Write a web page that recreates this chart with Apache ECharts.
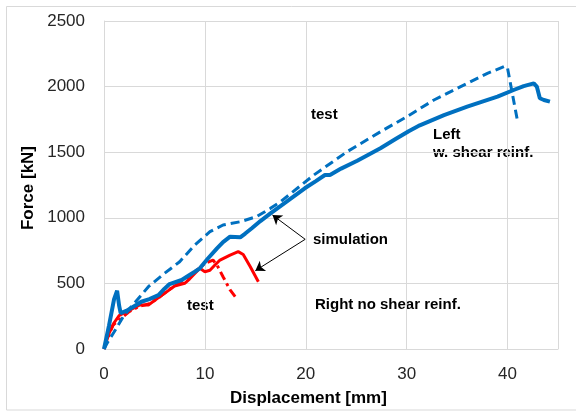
<!DOCTYPE html>
<html>
<head>
<meta charset="utf-8">
<script src="https://cdn.jsdelivr.net/npm/echarts@6/dist/echarts.min.js"></script>
<style>
  html, body { margin: 0; padding: 0; background: #fff; }
  #chart { width: 576px; height: 412px; }
</style>
</head>
<body>
<div id="chart"></div>
<script>
// displacement [mm], force [kN]
var leftSim = [
  [0, 0], [0.5, 180], [1.0, 380], [1.3, 444], [1.5, 330], [1.65, 274], [2.2, 290], [2.7, 312],
  [3.2, 335], [3.7, 360], [4.5, 380], [5.4, 411], [6.0, 460], [6.5, 495], [7.7, 526],
  [8.4, 560], [9.0, 589], [9.5, 615], [10.3, 690], [11.2, 767], [11.8, 815], [12.5, 856],
  [13.5, 851], [14.0, 880], [14.65, 920], [15.5, 975], [16.5, 1034], [18.1, 1123],
  [19.9, 1225], [21.0, 1280], [21.9, 1326], [22.4, 1326], [23.5, 1375], [25.1, 1435],
  [26.3, 1485], [27.4, 1530], [28.9, 1600], [30.2, 1660], [31.3, 1705], [33.7, 1783],
  [36.0, 1847], [37.5, 1885], [39.0, 1923], [40.6, 1974], [41.6, 2004], [42.6, 2025],
  [42.9, 2000], [43.2, 1911], [43.6, 1898], [44.2, 1885]
];
var leftTest = [
  [0, 0], [0.4, 56], [1.0, 130], [1.9, 246], [2.7, 322], [3.0, 348], [4.4, 475], [6.0, 577],
  [7.5, 665], [9.0, 793], [10.5, 894], [11.8, 945], [13.5, 970], [15.1, 1008], [16.5, 1072],
  [17.5, 1123], [20.8, 1326], [24.1, 1504], [27.4, 1656], [30.0, 1770], [32.7, 1898],
  [36.0, 2025], [38.0, 2101], [39.8, 2157], [40.0, 2140], [41.0, 1732]
];
var rightSim = [
  [0, 0], [0.5, 120], [1.0, 200], [1.5, 255], [2.5, 295], [3.5, 335], [4.4, 335], [5.2, 380],
  [6.0, 424], [7.0, 480], [8.0, 501], [8.5, 535], [9.5, 615], [10.0, 589], [10.5, 600],
  [11.0, 640], [11.5, 678], [12.5, 716], [13.3, 742], [13.8, 720], [14.5, 627], [15.3, 513]
];
var rightTest = [
  [0, 0], [0.5, 110], [0.9, 183], [1.7, 234], [2.5, 285], [3.5, 325], [4.5, 345], [5.5, 395],
  [6.5, 455], [7.5, 505], [8.5, 555], [9.5, 620], [10.0, 653], [10.8, 678], [11.2, 640],
  [11.8, 551], [12.5, 450], [13.0, 399]
];
var xTicks = [0, 10, 20, 30, 40];
var yTicks = [0, 500, 1000, 1500, 2000, 2500];
// simulation arrows: from label corner to the two simulation curves
var arrowFrom = [19.94, 836];
var arrowTips = [[16.7, 1021], [15.0, 597]];

var chart = echarts.init(document.getElementById('chart'));

var blue = '#0070C0';
var red = '#FF0000';
var boldText = {
  fontFamily: 'Liberation Sans',
  fontWeight: 'bold',
  fontSize: 15,
  fill: '#000'
};

chart.setOption({
  animation: false,
  backgroundColor: '#fff',
  grid: { left: 104, right: 18, top: 21, bottom: 63, containLabel: false },
  xAxis: {
    type: 'value',
    min: 0,
    max: 45,
    interval: 10,
    axisLine: { lineStyle: { color: '#d9d9d9', width: 1 } },
    axisTick: { show: false },
    splitLine: { show: true, lineStyle: { color: '#d9d9d9', width: 1 } },
    axisLabel: {
      margin: 17,
      fontFamily: 'Liberation Sans',
      fontSize: 17,
      color: '#262626',
      formatter: function (v) { return xTicks.indexOf(v) >= 0 ? String(v) : ''; }
    }
  },
  yAxis: {
    type: 'value',
    min: 0,
    max: 2500,
    interval: 500,
    axisLine: { show: true, lineStyle: { color: '#d9d9d9', width: 1 } },
    axisTick: { show: false },
    splitLine: { show: true, lineStyle: { color: '#d9d9d9', width: 1 } },
    axisLabel: {
      margin: 19,
      fontFamily: 'Liberation Sans',
      fontSize: 17,
      color: '#262626',
      formatter: function (v) { return yTicks.indexOf(v) >= 0 ? String(v) : ''; }
    }
  },
  series: [
    {
      type: 'line',
      data: leftTest,
      showSymbol: false,
      lineStyle: { color: blue, width: 3, type: [9, 5] },
      z: 3
    },
    {
      type: 'line',
      data: rightTest,
      showSymbol: false,
      lineStyle: { color: red, width: 3, type: [9, 4, 3, 4] },
      z: 2
    },
    {
      type: 'line',
      data: rightSim,
      showSymbol: false,
      lineStyle: { color: red, width: 3 },
      z: 2
    },
    {
      type: 'line',
      data: leftSim,
      showSymbol: false,
      lineStyle: { color: blue, width: 4 },
      z: 4,
      markLine: {
        silent: true,
        symbol: ['none', 'arrow'],
        symbolSize: 9,
        label: { show: false },
        lineStyle: { color: '#000', width: 1, type: 'solid' },
        data: arrowTips.map(function (t) {
          return [{ coord: arrowFrom }, { coord: t }];
        })
      }
    }
  ],
  graphic: [
    {
      type: 'rect',
      shape: { x: 6.5, y: 6.5, width: 575, height: 403.5 },
      style: { fill: 'none', stroke: '#d9d9d9', lineWidth: 1 },
      silent: true
    },
    {
      type: 'text', left: 230, top: 390,
      style: { text: 'Displacement [mm]', fontFamily: 'Liberation Sans', fontWeight: 'bold', fontSize: 17, fill: '#000' }
    },
    {
      type: 'text', x: 28, y: 188, rotation: Math.PI / 2,
      style: { text: 'Force [kN]', fontFamily: 'Liberation Sans', fontWeight: 'bold', fontSize: 17, fill: '#000', align: 'center', verticalAlign: 'middle' }
    },
    { type: 'text', x: 311, y: 115, style: Object.assign({ text: 'test', verticalAlign: 'middle' }, boldText) },
    { type: 'text', x: 433, y: 135, style: Object.assign({ text: 'Left', verticalAlign: 'middle' }, boldText) },
    { type: 'text', x: 433, y: 153, style: Object.assign({ text: 'w. shear reinf.', verticalAlign: 'middle' }, boldText) },
    { type: 'text', x: 313, y: 240, style: Object.assign({ text: 'simulation', verticalAlign: 'middle' }, boldText) },
    { type: 'text', x: 187, y: 306, style: Object.assign({ text: 'test', verticalAlign: 'middle' }, boldText) },
    { type: 'text', x: 315, y: 305, style: Object.assign({ text: 'Right no shear reinf.', verticalAlign: 'middle' }, boldText) }
  ]
});
</script>
</body>
</html>
